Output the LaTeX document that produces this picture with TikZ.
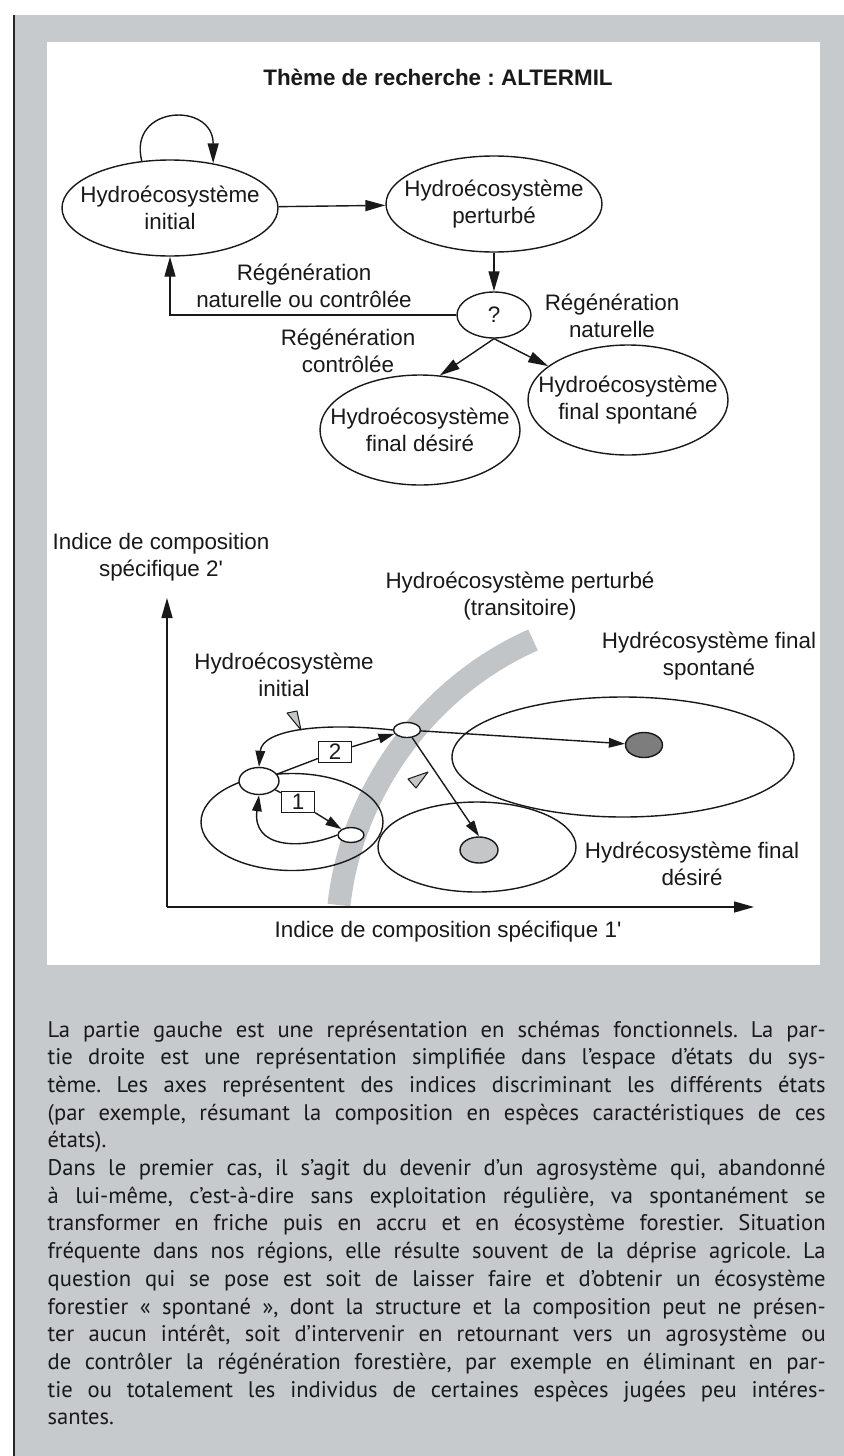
\documentclass[tikz,border=0pt]{standalone}
\usepackage{fontspec}
\setmainfont{Liberation Sans}
\newfontfamily\bodyfont{PT Sans}
\usetikzlibrary{shapes.geometric,arrows.meta}
\frenchspacing

\definecolor{panelgray}{RGB}{198,202,204}
\definecolor{bandgray}{RGB}{194,197,199}
\definecolor{darkdot}{RGB}{125,125,125}
\definecolor{lightdot}{RGB}{196,198,199}
\definecolor{ink}{RGB}{25,25,25}

\newlength{\bodywd}
\setlength{\bodywd}{389pt}
\newcommand{\jline}[1]{\makebox[\bodywd][s]{#1}}
\newcommand{\prm}{{\addfontfeatures{Ligatures=TeXOff}'}}

\begin{document}
\begin{tikzpicture}[x=0.5pt,y=-0.5pt,
  line width=0.7pt, draw=ink, text=ink,
  lbl/.style={font=\fontsize{11.2pt}{13.5pt}\selectfont, align=center, inner sep=0pt},
  state/.style={ellipse, draw, inner sep=0pt},
  smallstate/.style={ellipse, draw, fill=white, inner sep=0pt},
  numbox/.style={rectangle, draw, fill=white, inner sep=0pt, minimum width=16.5pt, minimum height=10.5pt,
                 font=\fontsize{11.2pt}{13.5pt}\selectfont},
  marker/.style={draw=ink, fill=lightdot, line width=0.5pt, line join=round},
  arr/.style={-{Triangle[length=10pt,width=5.5pt]}},
  sarr/.style={-{Triangle[length=8pt,width=4.8pt]}},
  bodyline/.style={anchor=base west, inner sep=0pt, font=\bodyfont\fontsize{11.3pt}{13.8pt}\selectfont}
]
\useasboundingbox (0,0) rectangle (844,1456);

% page, grey panel and the white drawing area
\fill[white] (0,0) rectangle (844,1456);
\fill[panelgray] (13,15) rectangle (844,1456);
\draw[line width=1.1pt, black!85] (14,15) -- (14,1456);
\fill[white] (47,42) rectangle (820,965);

% ---------- functional diagram ----------
\node[lbl, font=\fontsize{11.2pt}{13.5pt}\selectfont\bfseries] (title) at (438,77) {Thème de recherche : ALTERMIL};

\node[state, minimum width=108pt, minimum height=48pt] (A) at (170,208) {};
\node[lbl] (At) at (A.center) {Hydroécosystème\\initial};
\node[state, minimum width=108pt, minimum height=48pt] (B) at (494,204) {};
\node[lbl] (Bt) at (B.center) {Hydroécosystème\\perturbé};
\node[state, minimum width=37pt, minimum height=23pt] (Q) at (494,315) {};
\node[lbl] (Qt) at (Q.center) {?};
\node[state, minimum width=100pt, minimum height=55pt] (C) at (420,430) {};
\node[lbl] (Ct) at (C.center) {Hydroécosystème\\final désiré};
\node[state, minimum width=100pt, minimum height=55pt] (D) at (628,400) {};
\node[lbl] (Dt) at (D.center) {Hydroécosystème\\final spontané};

\draw[arr] (A.121) .. controls +(-14,-56) and +(0,-62) .. (A.46);
\draw[arr] (A) -- (B);
\draw[arr] (B.south) -- (Q.north);
\draw[arr] (Q.west) -| (A.south);
\draw[arr] (Q.south) -- (C.70);
\draw[arr] (Q.south) -- (D.157);

\node[lbl] (l1) at (304,286) {Régénération\\naturelle ou contrôlée};
\node[lbl] (l2) at (612,316) {Régénération\\naturelle};
\node[lbl] (l3) at (348,351) {Régénération\\contrôlée};

% ---------- state space ----------
\coordinate (O) at (167,907);
\coordinate (Ytip) at (167,598);
\coordinate (Xtip) at (754,907);

% transitional band
\draw[bandgray, line width=11.5pt] (339,905) .. controls (350,800) and (420,690) .. (533,640);

\draw[arr] (O) -- (Ytip);
\draw[arr] (O) -- (Xtip);
\node[lbl] (ylab) at (161,557) {Indice de composition\\spécifique 2\prm};
\node[lbl] (xlab) at (448,932) {Indice de composition spécifique 1\prm};

\node[state, minimum width=91pt, minimum height=48.5pt] (Ei) at (292,822) {};
\node[state, minimum width=171pt, minimum height=60pt] (Es) at (623,757) {};
\node[state, minimum width=99pt, minimum height=45pt] (Ed) at (477,847) {};

\node[lbl] (Eit) at (284,675) {Hydroécosystème\\initial};
\node[lbl] (Ept) at (520,596) {Hydroécosystème perturbé\\(transitoire)};
\node[lbl] (Est) at (709,656) {Hydrécosystème final\\spontané};
\node[lbl] (Edt) at (692,864) {Hydrécosystème final\\désiré};

\node[smallstate, minimum width=20pt, minimum height=13.5pt] (n0) at (259,781) {};
\node[smallstate, minimum width=13pt, minimum height=7.5pt] (n1) at (351,835) {};
\node[smallstate, minimum width=13.5pt, minimum height=7.5pt] (n2) at (407,730) {};
\node[ellipse, draw, fill=darkdot, inner sep=0pt, minimum width=18.5pt, minimum height=12.5pt] (dd) at (644,745) {};
\node[ellipse, draw, fill=lightdot, inner sep=0pt, minimum width=19pt, minimum height=13pt] (ld) at (479,850) {};

\node[numbox] (b1) at (298,802) {1};
\node[numbox] (b2) at (335,752) {2};

% loop 1
\draw (n0) -- (b1);
\draw[sarr] (b1) -- (n1);
\draw[sarr] (n1.west) .. controls (300,850) and (252,848) .. (n0.south);
% loop 2
\draw (n0) -- (b2);
\draw[sarr] (b2) -- (n2);
\draw[sarr] (n2.west) .. controls (320,722) and (262,730) .. (n0.north);
% towards the final states
\draw[sarr] (n2) -- (dd);
\draw[sarr] (n2) -- (ld.north);

% direction markers
\draw[marker] (287,713) -- (297,711) -- (301,730) -- cycle;
\draw[marker] (408,779) -- (428,772) -- (416,788) -- cycle;

% ---------- caption ----------
\node[bodyline] (t1) at (47,1037) {\jline{La partie gauche est une représentation en schémas fonctionnels. La par-}};
\node[bodyline] (t2) at (47,1064.7) {\jline{tie droite est une représentation simplifiée dans l’espace d’états du sys-}};
\node[bodyline] (t3) at (47,1092.4) {\jline{tème. Les axes représentent des indices discriminant les différents états}};
\node[bodyline] (t4) at (47,1120.1) {\jline{(par exemple, résumant la composition en espèces caractéristiques de ces}};
\node[bodyline] (t5) at (47,1147.8) {états).};
\node[bodyline] (t6) at (47,1175.5) {\jline{Dans le premier cas, il s’agit du devenir d’un agrosystème qui, abandonné}};
\node[bodyline] (t7) at (47,1203.2) {\jline{à lui-même, c’est-à-dire sans exploitation régulière, va spontanément se}};
\node[bodyline] (t8) at (47,1230.9) {\jline{transformer en friche puis en accru et en écosystème forestier. Situation}};
\node[bodyline] (t9) at (47,1258.6) {\jline{fréquente dans nos régions, elle résulte souvent de la déprise agricole. La}};
\node[bodyline] (t10) at (47,1286.3) {\jline{question qui se pose est soit de laisser faire et d’obtenir un écosystème}};
\node[bodyline] (t11) at (47,1314.0) {\jline{forestier « spontané », dont la structure et la composition peut ne présen-}};
\node[bodyline] (t12) at (47,1341.7) {\jline{ter aucun intérêt, soit d’intervenir en retournant vers un agrosystème ou}};
\node[bodyline] (t13) at (47,1369.4) {\jline{de contrôler la régénération forestière, par exemple en éliminant en par-}};
\node[bodyline] (t14) at (47,1397.1) {\jline{tie ou totalement les individus de certaines espèces jugées peu intéres-}};
\node[bodyline] (t15) at (47,1424.8) {santes.};
\end{tikzpicture}
\end{document}
